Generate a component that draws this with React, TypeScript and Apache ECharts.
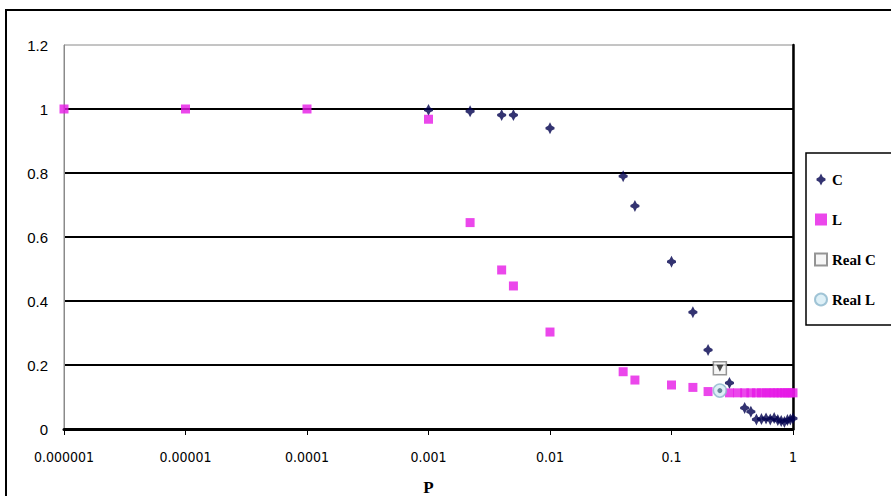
import React, { useEffect, useRef } from "react";
import * as echarts from "echarts";

const xTickLabels = ["0.000001", "0.00001", "0.0001", "0.001", "0.01", "0.1", "1"];
const yTickMax = 1.2;

const cX = [0.001, 0.0022, 0.004, 0.005, 0.01, 0.04, 0.05, 0.1, 0.15, 0.2, 0.3, 0.4, 0.45, 0.5, 0.55, 0.6, 0.65, 0.7, 0.75, 0.8, 0.85, 0.9, 0.95, 1.0];
const cY = [0.997, 0.993, 0.981, 0.981, 0.94, 0.79, 0.697, 0.523, 0.365, 0.247, 0.144, 0.066, 0.054, 0.03, 0.031, 0.033, 0.03, 0.034, 0.028, 0.025, 0.022, 0.028, 0.03, 0.033];

const lX = [0.000001, 0.00001, 0.0001, 0.001, 0.0022, 0.004, 0.005, 0.01, 0.04, 0.05, 0.1, 0.15, 0.2, 0.3, 0.35, 0.4, 0.45, 0.5, 0.55, 0.6, 0.65, 0.7, 0.75, 0.8, 0.85, 0.9, 0.95, 1.0];
const lY = [1.0, 1.0, 1.0, 0.968, 0.645, 0.497, 0.447, 0.303, 0.179, 0.153, 0.1375, 0.13, 0.117, 0.113, 0.113, 0.113, 0.113, 0.113, 0.113, 0.113, 0.113, 0.113, 0.113, 0.113, 0.113, 0.113, 0.113, 0.113];

const realCX = [0.25];
const realCY = [0.19];
const realLX = [0.25];
const realLY = [0.12];

const pairs = (xs: number[], ys: number[]) => xs.map((x, i) => [x, ys[i]]);

const cSymbol =
  "path://M0,-6 L1.8,-2.4 L4.5,-1 L4.5,1 L1.8,2.4 L0,6 L-1.8,2.4 L-4.5,1 L-4.5,-1 L-1.8,-2.4 Z";

export default function App() {
  const ref = useRef<HTMLDivElement>(null);
  useEffect(() => {
    if (!ref.current) return;
    const chart = echarts.init(ref.current, undefined, { renderer: "svg" });
    chart.setOption({
      animation: false,
      backgroundColor: "#ffffff",
      grid: {
        left: 64,
        right: 98,
        top: 45,
        bottom: 67,
        containLabel: false,
        outerBoundsMode: "none",
        show: true,
        borderColor: "#8a8a8a",
        borderWidth: 1,
      },
      graphic: [
        {
          type: "rect",
          silent: true,
          z: -10,
          shape: { x: 6, y: 10, width: 900, height: 500 },
          style: { fill: "none", stroke: "#000", lineWidth: 2 },
        },
      ],
      legend: {
        orient: "vertical",
        left: 806,
        top: 153,
        padding: [19, 80, 18, 8],
        itemGap: 25,
        itemWidth: 12,
        itemHeight: 12,
        backgroundColor: "#fff",
        borderColor: "#000",
        borderWidth: 1.5,
        borderRadius: 0,
        data: ["C", "L", "Real C", "Real L"],
        textStyle: {
          fontFamily: "Liberation Serif",
          fontWeight: "bold",
          fontSize: 15,
          color: "#000",
        },
      },
      xAxis: {
        type: "log",
        logBase: 10,
        min: 0.000001,
        max: 1,
        splitNumber: 6,
        name: "P",
        nameLocation: "middle",
        nameGap: 50,
        nameTextStyle: {
          fontFamily: "Liberation Serif",
          fontWeight: "bold",
          fontSize: 17,
          color: "#000",
        },
        axisLine: { show: true, onZero: false, lineStyle: { color: "#000", width: 3 } },
        axisTick: { show: true, inside: false, length: 6, lineStyle: { color: "#000", width: 1 } },
        axisLabel: {
          margin: 21,
          fontFamily: "DejaVu Sans Condensed, Liberation Sans",
          fontSize: 14,
          color: "#000",
          formatter: (v: number) => {
            const i = Math.round(Math.log10(v)) + 6;
            return xTickLabels[i] ?? "";
          },
        },
        splitLine: { show: false },
      },
      yAxis: [
        {
          type: "value",
          min: 0,
          max: yTickMax,
          interval: 0.2,
          axisLine: { show: true, lineStyle: { color: "#8a8a8a", width: 1 } },
          axisTick: { show: false },
          axisLabel: {
            margin: 16,
            fontFamily: "Liberation Sans",
            fontSize: 15,
            color: "#000",
            formatter: (v: number) => String(Math.round(v * 10) / 10),
          },
          splitLine: {
            show: true,
            showMinLine: false,
            showMaxLine: false,
            lineStyle: { color: "#000", width: 2 },
          },
        },
        {
          type: "value",
          position: "right",
          min: 0,
          max: yTickMax,
          interval: 0.2,
          axisLine: { show: true, lineStyle: { color: "#000", width: 2.5 } },
          axisTick: { show: false },
          axisLabel: { show: false },
          splitLine: { show: false },
        },
      ],
      series: [
        {
          name: "C",
          type: "scatter",
          symbol: cSymbol,
          symbolSize: [9, 12],
          itemStyle: { color: "#00004d" },
          data: pairs(cX, cY),
          z: 3,
        },
        {
          name: "L",
          type: "scatter",
          symbol: "rect",
          symbolSize: 9,
          itemStyle: { color: "#e619e6" },
          data: pairs(lX, lY),
          z: 4,
        },
        {
          name: "Real C",
          type: "scatter",
          symbol: "rect",
          symbolSize: 13,
          itemStyle: { color: "#f4f4f4", borderColor: "#7a7a7a", borderWidth: 1.5 },
          data: pairs(realCX, realCY),
          z: 5,
        },
        {
          name: "Real C mark",
          type: "scatter",
          symbol: "triangle",
          symbolRotate: 180,
          symbolSize: 7,
          itemStyle: { color: "#222222" },
          data: pairs(realCX, realCY),
          z: 6,
        },
        {
          name: "Real L",
          type: "scatter",
          symbol: "circle",
          symbolSize: 13,
          itemStyle: { color: "#d6ecf5", borderColor: "#8cb6cc", borderWidth: 1.5 },
          data: pairs(realLX, realLY),
          z: 5,
        },
        {
          name: "Real L mark",
          type: "scatter",
          symbol: "circle",
          symbolSize: 5,
          itemStyle: { color: "#4a6a80" },
          data: pairs(realLX, realLY),
          z: 6,
        },
      ],
    });
    return () => chart.dispose();
  }, []);
  return (
    <div
      ref={ref}
      style={{ position: "fixed", left: 0, top: 0, width: 891, height: 496 }}
    />
  );
}
